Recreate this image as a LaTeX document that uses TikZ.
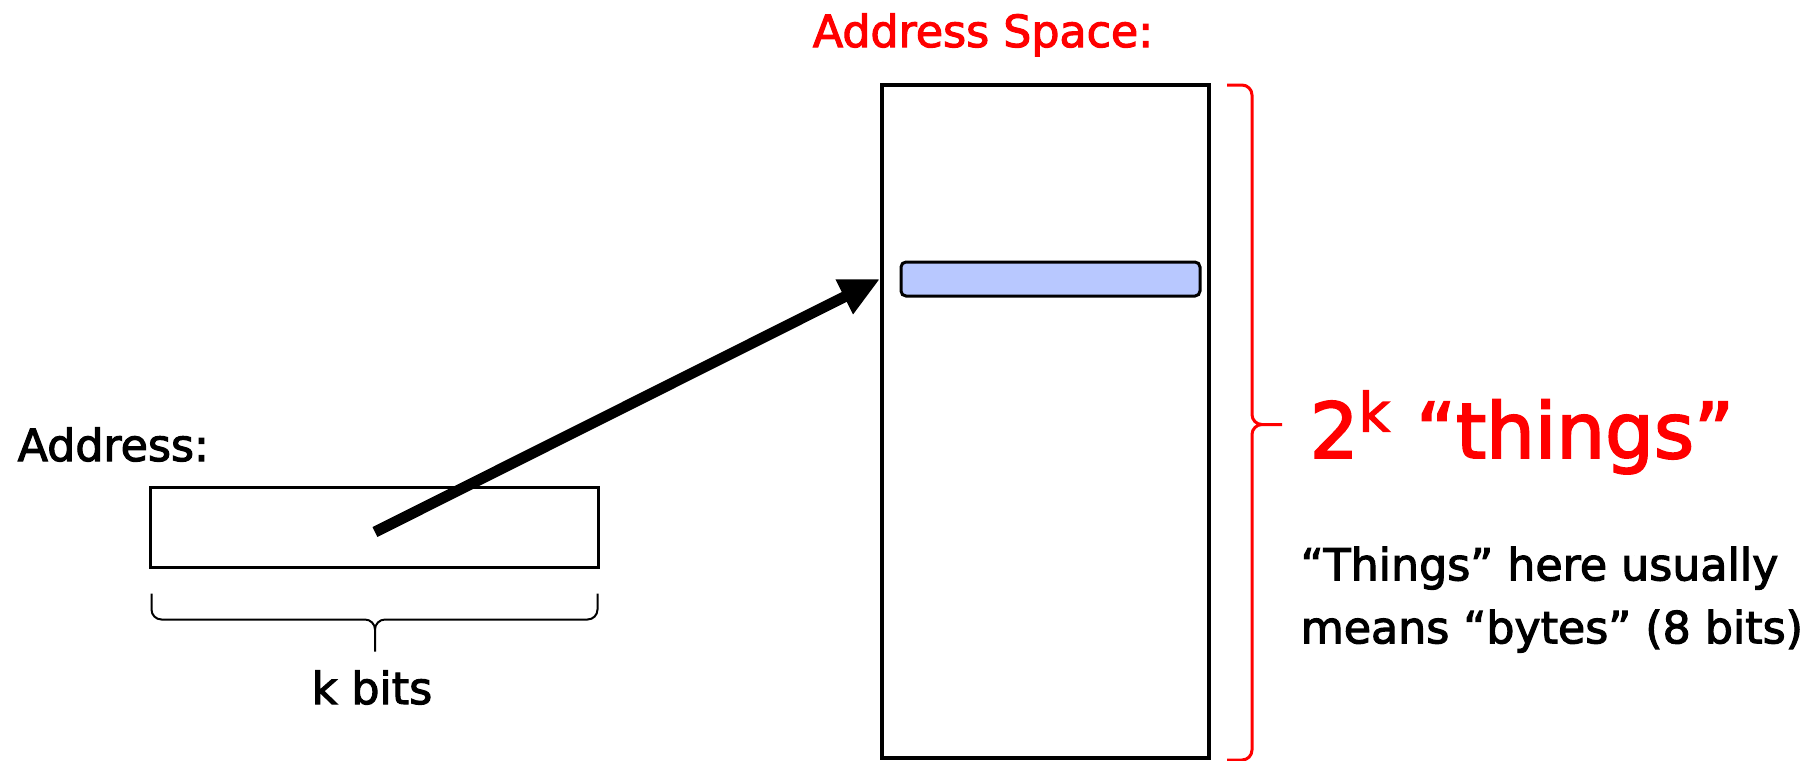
\documentclass[tikz,border=0pt]{standalone}
\usepackage{fontspec}
\setmainfont{DejaVu Sans}[FakeBold=2.5]
\usetikzlibrary{arrows.meta,calc}
\definecolor{slotblue}{RGB}{184,200,255}
\definecolor{hotred}{RGB}{255,0,0}
\newcommand\txtsize{\fontsize{12.6}{17.9}\selectfont}
\newcommand\bigsize{\fontsize{21.9}{26}\selectfont}

\begin{document}
\begin{tikzpicture}[x=0.1mm,y=-0.1mm,
  box/.style={draw,line width=0.3mm,inner sep=0pt},
  lbl/.style={inner sep=0pt,font=\txtsize},
  ptr/.style={line width=1.1mm,-{Triangle[length=4mm,width=3.6mm]}},
  brc/.style={rounded corners=1mm}]
  \useasboundingbox (0,0) rectangle (1804,760);
  \node[box,line width=0.4mm,minimum width=32.7mm,minimum height=67.3mm] (space) at (1045.5,421.5) {};
  \node[box,fill=slotblue,rounded corners=0.5mm,minimum width=29.9mm,minimum height=3.4mm] (slot) at (1050.5,279) {};
  \node[box,minimum width=44.8mm,minimum height=8mm] (addr) at (374,527) {};
  \coordinate (bit) at (375,532);
  \draw[ptr] (bit) -- (slot.west -| space.west);
  \coordinate (ktip) at ($(addr.south)+(1,83)$);
  \draw[brc,line width=0.2mm] ($(addr.south west)+(3,25)$) |- ($(ktip)+(0,-32)$) -- (ktip)
    ($(addr.south east)+(-2,25)$) |- ($(ktip)+(0,-32)$) -- (ktip);
  \coordinate (ntip) at ($(space.east)+(71,3)$);
  \draw[brc,hotred,line width=0.3mm] ($(space.north east)+(16,2)$) -| ($(ntip)+(-30,0)$) -- (ntip)
    ($(space.south east)+(16,0)$) -| ($(ntip)+(-30,0)$) -- (ntip);
  \node[lbl,hotred,anchor=base] (title) at (983,47) {Address Space:};
  \node[lbl,anchor=base west] (addrlbl) at (17,461) {Address:};
  \node[lbl,anchor=base] (kbits) at (372,704) {k bits};
  \node[lbl,hotred,font=\bigsize,anchor=base west] (count) at (1309,458) {2\textsuperscript{k} “things”};
  \node[lbl,anchor=north west,align=left] (note) at (1300,546) {“Things” here usually\\means “bytes” (8 bits)};
\end{tikzpicture}
\end{document}
